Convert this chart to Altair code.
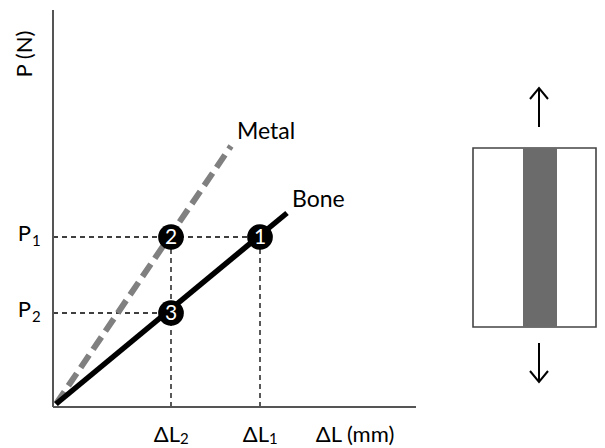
import altair as alt
import pandas as pd

FONT = "Lato, 'Noto Sans', sans-serif"

# conceptual values (arbitrary units, origin at 0,0)
dL1, dL2 = 204, 115          # elongations
P1, P2 = 167, 91             # loads
bone_end = (231, 191)
metal_end = (175, 258)

points_label = ["1", "2", "3"]
points_x = [dL1, dL2, dL2]
points_y = [P1, P1, P2]

tick_x_main = ["ΔL", "ΔL"]
tick_x_sub = ["2", "1"]
tick_x_vals = [dL2, dL1]
tick_y_main = ["P", "P"]
tick_y_sub = ["1", "2"]
tick_y_vals = [P1, P2]

series_names = ["Metal", "Bone"]
series_label_x = [181, 236]
series_label_y = [272, 204]

# specimen schematic
spec_box = dict(x=417, x2=540, y=77, y2=256)
spec_band = dict(x=467, x2=501, y=77, y2=256)
arrow_x = 483
arrow_up = (277, 316)     # tail, tip
arrow_down = (61, 22)     # tail, tip

xs = alt.Scale(domain=[-48, 541])
ys = alt.Scale(domain=[-44, 396])


def enc(**kw):
    out = {}
    for k, v in kw.items():
        if k == "x":
            out[k] = alt.X(v, type="quantitative", scale=xs, axis=None)
        elif k == "x2":
            out[k] = alt.X2(v)
        elif k == "y":
            out[k] = alt.Y(v, type="quantitative", scale=ys, axis=None)
        elif k == "y2":
            out[k] = alt.Y2(v)
        else:
            out[k] = v
    return out


# dashed guides
guides = pd.DataFrame({
    "x": [-3, -3, dL2, dL1],
    "x2": [dL1, dL2, dL2, dL1],
    "y": [P1, P2, -3, -3],
    "y2": [P1, P2, P1, P1],
})
guide_layer = alt.Chart(guides).mark_rule(color="black", strokeWidth=1.3, strokeDash=[5, 4]).encode(
    **enc(x="x", x2="x2", y="y", y2="y2"))

# axes
axes = pd.DataFrame({"x": [-3, -3], "x2": [-3, 360], "y": [-3, -3], "y2": [394, -3]})
axis_layer = alt.Chart(axes).mark_rule(color="#555555", strokeWidth=2).encode(
    **enc(x="x", x2="x2", y="y", y2="y2"))

metal = pd.DataFrame({"x": [0, metal_end[0]], "y": [0, metal_end[1]]})
metal_layer = alt.Chart(metal).mark_line(color="#808080", strokeWidth=6, strokeDash=[15, 7]).encode(
    **enc(x="x", y="y"))

bone = pd.DataFrame({"x": [0, bone_end[0]], "y": [0, bone_end[1]]})
bone_layer = alt.Chart(bone).mark_line(color="black", strokeWidth=5.5).encode(**enc(x="x", y="y"))

pts = pd.DataFrame({"x": points_x, "y": points_y, "label": points_label})
circle_layer = alt.Chart(pts).mark_circle(size=660, color="black", opacity=1).encode(**enc(x="x", y="y"))
num_layer = alt.Chart(pts).mark_text(color="white", fontSize=21, font=FONT, baseline="middle", dy=1).encode(
    **enc(x="x", y="y", text="label:N"))

# x tick labels: main part + subscript
xt = pd.DataFrame({"x": tick_x_vals, "y": [-31, -31], "main": tick_x_main, "sub": tick_x_sub})
xt_main = alt.Chart(xt).mark_text(fontSize=22, font=FONT, color="black", baseline="middle",
                                  align="right", dx=9).encode(**enc(x="x", y="y", text="main:N"))
xt_sub = alt.Chart(xt).mark_text(fontSize=15, font=FONT, color="black", baseline="middle",
                                 align="left", dx=9, dy=4).encode(**enc(x="x", y="y", text="sub:N"))

# y tick labels: main part + subscript
yt = pd.DataFrame({"x": [-25, -25], "y": tick_y_vals, "main": tick_y_main, "sub": tick_y_sub})
yt_main = alt.Chart(yt).mark_text(fontSize=22, font=FONT, color="black", baseline="middle",
                                  align="right", dy=-3).encode(**enc(x="x", y="y", text="main:N"))
yt_sub = alt.Chart(yt).mark_text(fontSize=15, font=FONT, color="black", baseline="middle",
                                 align="left", dx=1, dy=4).encode(**enc(x="x", y="y", text="sub:N"))

titles = pd.DataFrame({"x": [299], "y": [-31], "label": ["ΔL (mm)"]})
xtitle_layer = alt.Chart(titles).mark_text(fontSize=22, font=FONT, color="black", baseline="middle").encode(
    **enc(x="x", y="y", text="label:N"))
ytitle = pd.DataFrame({"x": [-31], "y": [350], "label": ["P (N)"]})
ytitle_layer = alt.Chart(ytitle).mark_text(fontSize=22, font=FONT, color="black", baseline="middle", angle=270).encode(
    **enc(x="x", y="y", text="label:N"))

names = pd.DataFrame({"x": series_label_x, "y": series_label_y, "label": series_names})
names_layer = alt.Chart(names).mark_text(fontSize=23, font=FONT, color="black", baseline="middle", align="left").encode(
    **enc(x="x", y="y", text="label:N"))

box = pd.DataFrame([spec_box])
box_layer = alt.Chart(box).mark_rect(fill="white", stroke="#444444", strokeWidth=1.6).encode(
    **enc(x="x", x2="x2", y="y", y2="y2"))
band = pd.DataFrame([spec_band])
band_layer = alt.Chart(band).mark_rect(fill="#6b6b6b").encode(**enc(x="x", x2="x2", y="y", y2="y2"))

# arrows: shaft + head as polylines
hw, hl = 9, 11
arrows = pd.DataFrame({
    "seg": ["up_shaft", "up_shaft", "up_head", "up_head", "up_head",
            "dn_shaft", "dn_shaft", "dn_head", "dn_head", "dn_head"],
    "order": [0, 1, 0, 1, 2, 0, 1, 0, 1, 2],
    "x": [arrow_x, arrow_x, arrow_x - hw, arrow_x, arrow_x + hw,
          arrow_x, arrow_x, arrow_x - hw, arrow_x, arrow_x + hw],
    "y": [arrow_up[0], arrow_up[1], arrow_up[1] - hl, arrow_up[1], arrow_up[1] - hl,
          arrow_down[0], arrow_down[1], arrow_down[1] + hl, arrow_down[1], arrow_down[1] + hl],
})
arrow_layer = alt.Chart(arrows).mark_line(color="black", strokeWidth=2).encode(
    **enc(x="x", y="y", detail="seg:N", order="order:Q"))

chart = alt.layer(
    guide_layer, axis_layer, metal_layer, bone_layer, circle_layer, num_layer,
    xt_main, xt_sub, yt_main, yt_sub, xtitle_layer, ytitle_layer, names_layer,
    box_layer, band_layer, arrow_layer,
).properties(
    width=589, height=440, padding=0,
    autosize=alt.AutoSizeParams(type="none"),
).configure_view(stroke=None)

chart.save("out.html", embed_options={"renderer": "svg", "actions": False})
